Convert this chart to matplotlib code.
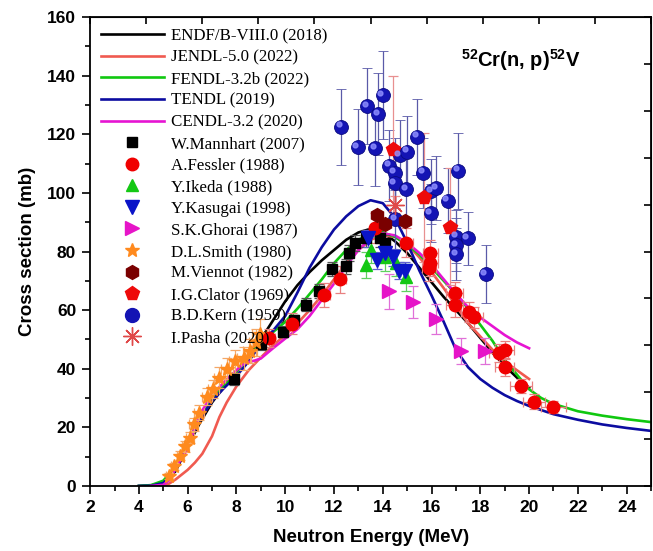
import matplotlib
matplotlib.use('Agg')
import matplotlib.pyplot as plt
from matplotlib.lines import Line2D
from matplotlib.legend_handler import HandlerLine2D
from matplotlib.transforms import ScaledTranslation
from matplotlib.ticker import MultipleLocator, FixedLocator, NullFormatter

plt.rcParams['font.family'] = ['Liberation Sans', 'DejaVu Sans']
plt.rcParams['mathtext.fontset'] = 'custom'
plt.rcParams['mathtext.rm'] = 'Liberation Sans'
plt.rcParams['mathtext.bf'] = 'Liberation Sans:bold'

# ---------------- evaluated curves ----------------
endf_E = [4.0, 4.5, 5.0, 5.5, 6.0, 6.5, 7.0, 7.5, 8.0, 8.5, 9.0, 9.5, 10.0, 10.5, 11.0, 11.5,
          12.0, 12.5, 13.0, 13.4, 14.0, 14.5, 15.0, 15.5, 16.0, 16.5, 17.0, 17.5, 18.0, 18.5,
          19.0, 19.5, 20.0]
endf_s = [0.0, 0.2, 1.2, 5.0, 13.5, 21.5, 28.5, 34.0, 39.0, 44.5, 50.0, 56.5, 63.0, 68.5, 73.0,
          77.0, 80.5, 84.0, 86.5, 87.5, 86.5, 83.5, 79.5, 74.5, 69.5, 64.5, 60.0, 55.5, 50.5,
          45.5, 41.0, 37.0, 33.5]

jendl_E = [4.8, 5.2, 5.5, 6.0, 6.3, 6.6, 7.0, 7.3, 7.6, 8.0, 8.5, 8.9, 9.2, 9.5, 10.0, 10.5,
           11.0, 11.5, 12.0, 12.5, 13.0, 13.5, 14.0, 14.5, 15.0, 15.5, 16.0, 16.5, 17.0, 17.5,
           18.0, 18.5, 19.0, 19.5, 20.0]
jendl_s = [0.0, 0.6, 2.2, 5.5, 8.0, 11.0, 17.0, 23.5, 28.5, 34.0, 39.5, 43.0, 45.5, 48.0, 51.5,
           55.5, 60.0, 65.0, 70.5, 76.0, 80.5, 84.0, 85.5, 85.0, 82.5, 78.0, 73.0, 67.5, 61.5,
           55.5, 51.0, 46.5, 42.5, 39.5, 36.5]

fendl_E = [4.0, 4.5, 5.0, 5.5, 6.0, 6.5, 7.0, 7.5, 8.0, 8.5, 9.0, 9.5, 10.0, 10.5, 11.0, 11.5,
           12.0, 12.5, 13.0, 13.5, 14.0, 14.5, 15.0, 15.5, 16.0, 16.5, 17.0, 17.5, 18.0, 18.5,
           19.0, 19.5, 20.0, 20.5, 21.0, 22.0, 23.0, 24.0, 25.0]
fendl_s = [0.0, 0.3, 1.8, 6.5, 15.0, 23.0, 29.5, 34.5, 39.0, 44.0, 49.0, 52.5, 56.0, 60.5, 65.5,
           70.5, 76.0, 80.5, 84.0, 86.0, 86.5, 85.0, 82.3, 79.0, 74.5, 70.0, 65.5, 60.5, 55.0,
           49.5, 43.0, 38.0, 33.0, 30.0, 28.0, 25.5, 24.0, 22.8, 21.8]

tendl_E = [4.0, 4.5, 5.0, 5.5, 6.0, 6.5, 7.0, 7.5, 8.0, 8.5, 9.0, 9.5, 10.0, 10.5, 11.0, 11.5,
           12.0, 12.5, 13.0, 13.5, 14.0, 14.5, 15.0, 15.5, 16.0, 16.5, 17.0, 17.5, 18.0, 18.5,
           19.0, 19.5, 20.0, 21.0, 22.0, 23.0, 24.0, 25.0]
tendl_s = [0.0, 0.1, 1.0, 5.5, 14.5, 22.5, 29.0, 33.5, 37.5, 42.5, 48.5, 53.0, 58.0, 66.0, 74.5,
           81.5, 87.5, 92.0, 95.5, 97.5, 96.5, 91.5, 83.0, 73.5, 65.0, 56.0, 46.5, 40.5, 36.5,
           33.5, 31.0, 29.0, 27.3, 24.5, 22.6, 21.0, 19.8, 18.8]

cendl_E = [4.5, 5.0, 5.25, 5.5, 5.75, 6.0, 6.25, 6.5, 7.0, 7.5, 8.0, 8.25, 8.5, 8.75, 9.0, 9.5,
           10.0, 10.5, 11.0, 11.5, 12.0, 12.5, 13.0, 13.5, 14.0, 14.5, 15.0, 15.5, 16.0, 16.5,
           17.0, 17.5, 18.0, 18.5, 19.0, 19.5, 20.0]
cendl_s = [0.0, 0.4, 2.0, 6.0, 9.5, 12.5, 19.0, 24.5, 31.0, 35.5, 39.5, 41.5, 42.3, 42.8, 43.5,
           47.0, 50.3, 53.5, 58.0, 63.5, 69.0, 75.0, 80.5, 84.5, 86.2, 85.5, 83.0, 79.5, 75.5,
           70.5, 65.5, 61.0, 57.5, 54.5, 51.5, 49.0, 47.0]

# ---------------- experimental data ----------------
mann_E = [7.9, 9.0, 9.9, 10.35, 10.85, 11.4, 11.9, 12.5, 12.6, 12.85, 13.3, 13.9, 14.1]
mann_s = [36.5, 48.5, 52.7, 56.5, 61.8, 66.5, 74.0, 75.0, 79.5, 83.0, 84.5, 84.5, 83.0]
mann_err = [2.0, 2.0, 2.0, 2.0, 2.2, 2.3, 2.5, 2.5, 2.7, 2.8, 2.8, 2.8, 2.8]

fess_E = [9.33, 10.28, 11.57, 12.25, 13.7, 14.97, 15.95, 15.95, 15.9, 16.95, 16.95, 17.55,
          17.75, 18.75, 19.0, 19.0, 19.65, 20.2, 21.0]
fess_s = [50.4, 55.4, 65.2, 70.5, 88.0, 83.0, 79.5, 76.0, 74.5, 65.7, 61.8, 59.3, 57.5, 45.3,
          46.4, 40.6, 34.1, 28.8, 26.9]
fess_yerr = [3.0, 3.5, 4.0, 4.5, 5.0, 5.0, 4.5, 4.5, 4.5, 4.0, 4.0, 3.5, 3.5, 3.0, 3.0, 3.0,
             2.5, 2.5, 2.0]
fess_xerr = [0.25, 0.25, 0.25, 0.25, 0.2, 0.25, 0.3, 0.3, 0.3, 0.35, 0.35, 0.35, 0.35, 0.4,
             0.4, 0.4, 0.45, 0.45, 0.5]

ikeda_E = [13.3, 13.5, 14.1, 14.55, 14.95]
ikeda_s = [75.5, 80.5, 78.0, 76.0, 71.2]
ikeda_err = [4.5, 4.5, 4.5, 4.5, 4.5]

kasu_E = [13.4, 13.75, 14.1, 14.4, 14.65, 14.9]
kasu_s = [84.5, 77.0, 79.5, 78.0, 73.5, 73.5]
kasu_err = [3.0, 3.0, 3.0, 3.0, 3.0, 3.0]

ghor_E = [14.25, 15.25, 16.2, 17.2, 18.2]
ghor_s = [66.5, 62.8, 57.0, 46.0, 46.0]
ghor_err = [6.0, 5.5, 5.0, 4.5, 4.5]

smith_E = [5.25, 5.45, 5.7, 5.9, 6.1, 6.25, 6.45, 6.8, 7.05, 7.3, 7.6, 7.95, 8.3, 8.55, 8.8, 8.95]
smith_s = [3.5, 6.8, 10.3, 13.5, 16.5, 21.0, 25.0, 30.5, 33.0, 37.0, 40.0, 42.5, 43.5, 46.0,
           49.0, 52.0]
smith_yerr = [1.0, 1.2, 1.5, 1.8, 2.0, 2.3, 2.5, 3.0, 3.0, 3.5, 3.5, 4.0, 4.0, 4.0, 4.5, 5.0]
smith_xerr = [0.12, 0.12, 0.15, 0.15, 0.18, 0.18, 0.2, 0.2, 0.22, 0.22, 0.25, 0.25, 0.28, 0.28,
              0.3, 0.3]

vien_E = [13.75, 14.1, 14.9]
vien_s = [92.5, 89.5, 90.3]

clat_E = [14.4, 15.7, 16.75]
clat_s = [115.0, 98.5, 88.5]
clat_err = [25.0, 22.0, 20.0]

kern_E = [12.29, 12.97, 13.37, 13.7, 13.81, 13.99, 14.25, 14.49, 14.49, 14.69, 15.0, 15.41,
          14.96, 15.65, 15.98, 16.19, 17.1, 14.5, 16.66, 15.96, 17.0, 17.0, 17.0, 17.48, 18.22]
kern_s = [122.6, 115.6, 129.7, 115.2, 126.9, 133.4, 109.3, 106.9, 103.3, 113.0, 114.1, 119.2,
          101.2, 106.9, 100.5, 101.6, 107.6, 91.0, 97.4, 93.1, 85.1, 82.3, 79.2, 84.5, 72.3]
kern_err = [13.0, 13.0, 13.0, 13.0, 14.0, 15.0, 12.0, 12.0, 11.0, 12.0, 12.0, 13.0, 11.0, 12.0,
            11.0, 11.0, 13.0, 10.0, 11.0, 10.0, 9.0, 9.0, 9.0, 9.0, 10.0]

pasha_E = [14.5]
pasha_s = [96.0]
pasha_err = [3.0]

fig = plt.figure(figsize=(6.53, 5.51), dpi=100)
ax = fig.add_axes([0.138, 0.118, 0.859, 0.851])

lw = 1.9
ax.plot(endf_E, endf_s, color='black', lw=lw, zorder=2)
ax.plot(jendl_E, jendl_s, color='#f05a50', lw=lw, zorder=2)
ax.plot(fendl_E, fendl_s, color='#10c810', lw=lw, zorder=2)
ax.plot(tendl_E, tendl_s, color='#0c0ca0', lw=lw, zorder=2)
ax.plot(cendl_E, cendl_s, color='#e614d2', lw=lw, zorder=2)

ebk = dict(elinewidth=0.9, capsize=3.5, capthick=0.9, linestyle='none', zorder=4)
ax.errorbar(kern_E, kern_s, yerr=kern_err, fmt='o', ms=10, mfc='#1414b4', mec='#0a0a80',
            mew=0.6, ecolor='#5a5aa8', **ebk)
hl = ax.transData + ScaledTranslation(-1.6 / 72, 1.6 / 72, fig.dpi_scale_trans)
ax.plot(kern_E, kern_s, 'o', ms=3.5, color='#9090ff', alpha=0.8, transform=hl, zorder=5)

ax.errorbar(clat_E, clat_s, yerr=clat_err, fmt='p', ms=10, mfc='#ee0a0a', mec='#ee0a0a',
            ecolor='#e89090', **ebk)
ax.errorbar(mann_E, mann_s, yerr=mann_err, fmt='s', ms=7.5, mfc='black', mec='black',
            ecolor='#555555', **ebk)
ax.errorbar(smith_E, smith_s, yerr=smith_yerr, xerr=smith_xerr, fmt='*', ms=10.5,
            mfc='#ff8a1e', mec='#ff8a1e', ecolor='#f4a868', **ebk)
ax.errorbar(fess_E, fess_s, yerr=fess_yerr, xerr=fess_xerr, fmt='o', ms=9, mfc='#f00000',
            mec='#f00000', ecolor='#e88080', **ebk)
ax.errorbar(ikeda_E, ikeda_s, yerr=ikeda_err, fmt='^', ms=9, mfc='#14c814', mec='#14c814',
            ecolor='#60d060', **ebk)
ax.errorbar(kasu_E, kasu_s, yerr=kasu_err, fmt='v', ms=9.5, mfc='#0a14c8', mec='#0a14c8',
            ecolor='#6060d0', **ebk)
ax.errorbar(ghor_E, ghor_s, yerr=ghor_err, fmt='>', ms=9.5, mfc='#e614c8', mec='#e614c8',
            ecolor='#e070d8', **ebk)
ax.errorbar(vien_E, vien_s, fmt='h', ms=10, mfc='#7a0000', mec='#7a0000', **ebk)
ax.errorbar(pasha_E, pasha_s, yerr=pasha_err, fmt='none', ecolor='#e89090', **ebk)
ax.plot(pasha_E, pasha_s, linestyle='none', marker=(8, 2, 0), ms=13, mec='#e04848',
        mew=1.0, zorder=5)

ax.set_xlim(2, 25)
ax.set_ylim(0, 160)
ax.xaxis.set_major_locator(MultipleLocator(2))
ax.xaxis.set_minor_locator(MultipleLocator(1))
ax.yaxis.set_major_locator(MultipleLocator(20))
ax.yaxis.set_minor_locator(MultipleLocator(10))
ax.tick_params(which='both', direction='out', width=1.2, labelsize=12.5, pad=4)
ax.tick_params(which='major', length=6)
ax.tick_params(which='minor', length=3.5)
for lab in ax.get_xticklabels() + ax.get_yticklabels():
    lab.set_fontweight('bold')
for sp in ax.spines.values():
    sp.set_linewidth(1.3)

top = ax.secondary_xaxis('top')
top.xaxis.set_major_locator(FixedLocator([2 + 2.3 * k for k in range(11)]))
top.xaxis.set_major_formatter(NullFormatter())
top.tick_params(direction='in', length=5, width=1.2)
right = ax.secondary_yaxis('right')
right.yaxis.set_major_locator(FixedLocator([16 * k for k in range(11)]))
right.yaxis.set_major_formatter(NullFormatter())
right.tick_params(direction='in', length=5, width=1.2)

ax.set_xlabel('Neutron Energy (MeV)', fontsize=13.5, fontweight='bold', labelpad=10)
ax.set_ylabel('Cross section (mb)', fontsize=13.5, fontweight='bold', labelpad=8)

ax.text(19.68, 143.1, r'$^{\mathbf{52}}$Cr(n, p)$^{\mathbf{52}}$V', fontsize=14.5,
        fontweight='bold', ha='center', va='baseline')

# legend
names_lines = ['ENDF/B-VIII.0 (2018)', 'JENDL-5.0 (2022)', 'FENDL-3.2b (2022)', 'TENDL (2019)',
               'CENDL-3.2 (2020)']
line_cols = ['black', '#f05a50', '#10c810', '#0c0ca0', '#e614d2']
handles = [Line2D([], [], color=c, lw=lw) for c in line_cols]
names_pts = ['W.Mannhart (2007)', 'A.Fessler (1988)', 'Y.Ikeda (1988)', 'Y.Kasugai (1998)',
             'S.K.Ghorai (1987)', 'D.L.Smith (1980)', 'M.Viennot (1982)', 'I.G.Clator (1969)',
             'B.D.Kern (1959)', 'I.Pasha (2020)']
pt_styles = [('s', '#000000', 7.5), ('o', '#f00000', 9), ('^', '#14c814', 9),
             ('v', '#0a14c8', 9.5), ('>', '#e614c8', 9.5), ('*', '#ff8a1e', 10.5),
             ('h', '#7a0000', 10), ('p', '#ee0a0a', 10), ('o', '#1414b4', 10),
             ((8, 2, 0), '#e04848', 13)]
for m, c, s in pt_styles:
    handles.append(Line2D([], [], linestyle='none', marker=m, ms=s, mfc=c, mec=c))


class LeftMarker(HandlerLine2D):
    def get_xdata(self, legend, xdescent, ydescent, width, height, fontsize):
        xd, xm = super().get_xdata(legend, xdescent, ydescent, width, height, fontsize)
        return xd, [-xdescent + 0.28 * width]


leg = ax.legend(handles, names_lines + names_pts, loc='upper left', bbox_to_anchor=(0.0, 1.0),
                frameon=False, prop={'family': 'Liberation Serif', 'size': 12.2},
                handlelength=3.7, handletextpad=0.45, labelspacing=0.33, borderaxespad=0.25,
                handler_map={Line2D: LeftMarker()})

fig.savefig('out.png', dpi=100)
